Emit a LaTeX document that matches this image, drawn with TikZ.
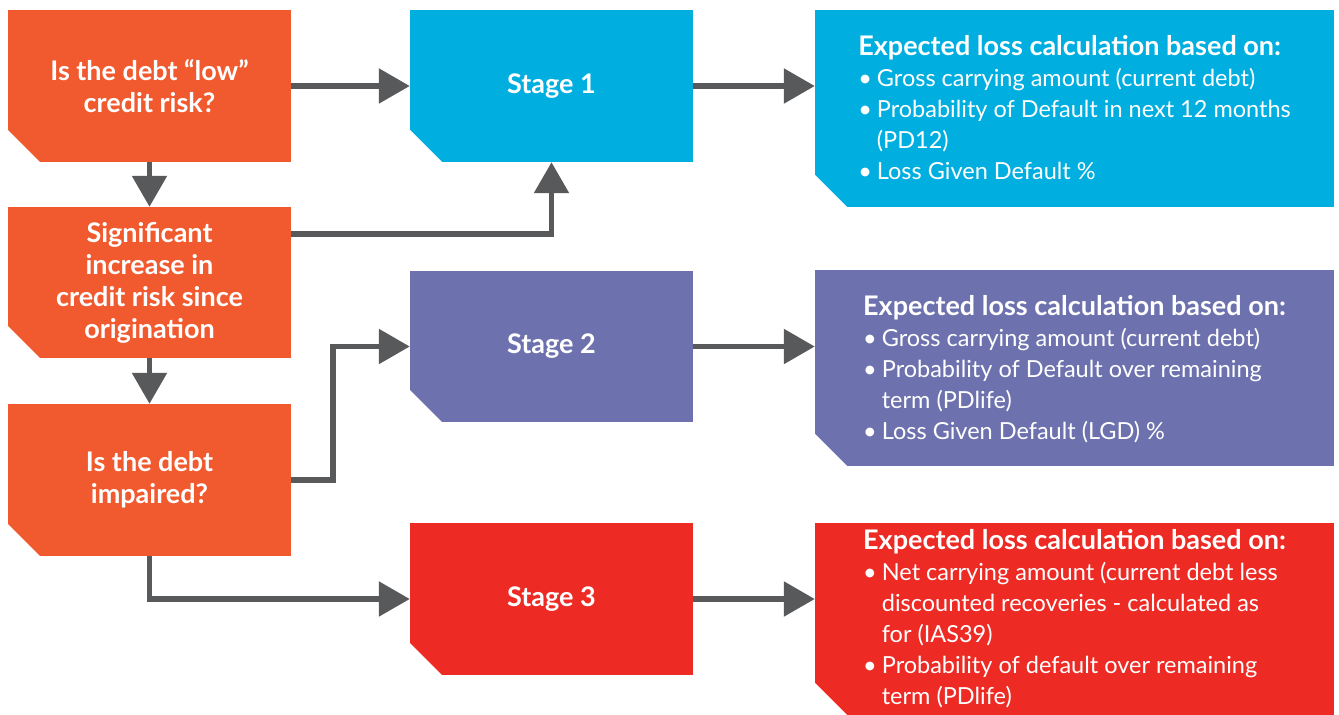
\documentclass[tikz,border=0pt]{standalone}
\usepackage{fontspec}
\setmainfont{Lato}
\usetikzlibrary{arrows.meta}
\definecolor{askorange}{HTML}{F15A2F}
\definecolor{stageblue}{HTML}{00AEDF}
\definecolor{stagepurple}{HTML}{6D72AF}
\definecolor{stagered}{HTML}{EE2A24}
\definecolor{flowgray}{HTML}{58595B}
\newcommand{\losshead}[1]{\multicolumn{2}{@{}l@{}}{\rule{0pt}{#1}\bfseries\fontsize{27}{31}\selectfont Expected loss calculation based on:}}

\begin{document}
\begin{tikzpicture}[x=1pt,y=-1pt,
    cutbox/.style={fill=#1,text=white,inner sep=0pt,
      path picture={\fill[white] ([yshift=32pt]path picture bounding box.south west)
        -- (path picture bounding box.south west) -- ([xshift=32pt]path picture bounding box.south west) -- cycle;}},
    askbox/.style={cutbox=askorange,minimum width=283pt,minimum height=152pt,align=center,
      font=\bfseries\fontsize{27}{32}\selectfont},
    stagebox/.style={cutbox=#1,minimum width=283pt,minimum height=152pt,font=\bfseries\fontsize{27}{30}\selectfont},
    infobox/.style={cutbox=#1,minimum width=519pt,font=\fontsize{23.5}{31}\selectfont},
    flow/.style={draw=flowgray,line width=5.5pt,-{Triangle[length=31pt,width=34pt]}}]
  \useasboundingbox (0,0) rectangle (1339,715);
  % questions
  \node[askbox] (q1) at (149.5,86) {Is the debt ``low''\\credit risk?};
  \node[askbox,minimum height=151pt] (q2) at (149.5,282.5) {Significant\\increase in\\credit risk since\\origination};
  \node[askbox] (q3) at (149.5,480) {Is the debt\\impaired?};
  % stages
  \node[stagebox=stageblue] (s1) at (551.5,86) {Stage 1};
  \node[stagebox=stagepurple,minimum height=151pt] (s2) at (551.5,346.5) {Stage 2};
  \node[stagebox=stagered] (s3) at (551.5,599) {Stage 3};
  % loss calculation
  \node[infobox=stageblue,minimum height=197pt] (i1) at (1074.5,108.5) {%
    \begin{tabular}{@{}l@{\hspace{5pt}}l@{}}
      \losshead{28pt}\\
      \textbullet & Gross carrying amount (current debt)\\
      \textbullet & Probability of Default in next 12 months\\
                  & (PD12)\\
      \textbullet & Loss Given Default \%
    \end{tabular}};
  \node[infobox=stagepurple,minimum height=196pt] (i2) at (1074.5,368) {%
    \begin{tabular}{@{}l@{\hspace{5pt}}l@{}}
      \losshead{28pt}\\
      \textbullet & Gross carrying amount (current debt)\\
      \textbullet & Probability of Default over remaining\\
                  & term (PDlife)\\
      \textbullet & Loss Given Default (LGD) \%
    \end{tabular}};
  \node[infobox=stagered,minimum height=192pt] (i3) at (1074.5,619) {%
    \begin{tabular}{@{}l@{\hspace{5pt}}l@{}}
      \losshead{25pt}\\
      \textbullet & Net carrying amount (current debt less\\
                  & discounted recoveries - calculated as\\
                  & for (IAS39)\\
      \textbullet & Probability of default over remaining\\
                  & term (PDlife)
    \end{tabular}};
  % connectors
  \draw[flow] (q1) -- (s1);
  \draw[flow] (q1) -- (q2);
  \draw[flow] (q2) -- (q3);
  \draw[flow] ([yshift=48.5pt]q2.east) -| (s1.south);
  \draw[flow] (q3.east) -- ++(42,0) |- (s2.west);
  \draw[flow] (q3.south) |- (s3.west);
  \draw[flow] (s1) -- (i1.west |- s1);
  \draw[flow] (s2) -- (i2.west |- s2);
  \draw[flow] (s3) -- (i3.west |- s3);
\end{tikzpicture}
\end{document}
